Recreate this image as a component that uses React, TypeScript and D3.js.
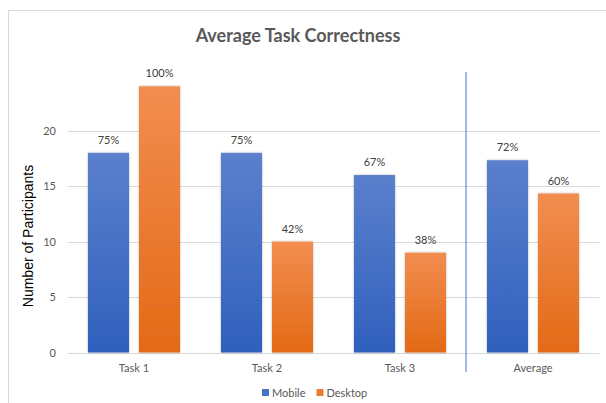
import React from "react";
import * as d3 from "d3";

// Participants who completed each task correctly (out of 24)
const categories = ["Task 1", "Task 2", "Task 3", "Average"];
const seriesNames = ["Mobile", "Desktop"];
const mobileValues = [18, 18, 16, 52 / 3];
const desktopValues = [24, 10, 9, 43 / 3];
const totalParticipants = 24;
const yTicks = [0, 5, 10, 15, 20];

const W = 606;
const H = 403;
const FONT = "Lato, 'Open Sans', sans-serif";

const seriesValues = [mobileValues, desktopValues];
const gradients = [
  { id: "grad-mobile", top: "#5B80CC", bottom: "#2F60BD", swatch: "#4472C4" },
  { id: "grad-desktop", top: "#F28D50", bottom: "#E36A16", swatch: "#ED7D31" },
];

export default function App() {
  const x0 = d3.scaleBand<string>().domain(categories).range([67.5, 599.5]);
  const x1 = d3
    .scaleBand<string>()
    .domain(seriesNames)
    .range([0, x0.bandwidth()])
    .paddingInner(0.196)
    .paddingOuter(0.402);
  const y = d3.scaleLinear().domain([0, 25]).range([352.5, 75.2]);

  const pct = (v: number) => `${Math.round((v / totalParticipants) * 100)}%`;
  const dividerX = x0("Average")!;

  return (
    <svg
      width={W}
      height={H}
      style={{ position: "absolute", left: 0, top: 0, background: "#fff" }}
      fontFamily={FONT}
    >
      <defs>
        {gradients.map((g) => (
          <linearGradient key={g.id} id={g.id} x1="0" y1="0" x2="0" y2="1">
            <stop offset="0%" stopColor={g.top} />
            <stop offset="100%" stopColor={g.bottom} />
          </linearGradient>
        ))}
        <filter id="bar-shadow" x="-20%" y="-10%" width="140%" height="120%">
          <feDropShadow dx="0" dy="0" stdDeviation="1" floodColor="#000" floodOpacity="0.3" />
        </filter>
      </defs>

      {/* chart frame */}
      <rect x={8.5} y={10.5} width={W} height={H} fill="#fff" stroke="#d9d9d9" />

      <text
        x={298}
        y={42}
        textAnchor="middle"
        fontSize={18}
        fontWeight={700}
        fill="#595959"
      >
        Average Task Correctness
      </text>

      {/* gridlines */}
      {yTicks.map((t) => (
        <g key={t}>
          <line x1={67.5} x2={599.5} y1={Math.round(y(t)) + 0.5} y2={Math.round(y(t)) + 0.5} stroke="#d9d9d9" />
          <text x={56} y={y(t) + 4} textAnchor="end" fontSize={11} fill="#595959">
            {t}
          </text>
        </g>
      ))}

      <text
        transform="translate(33,236) rotate(-90)"
        textAnchor="middle"
        fontSize={14}
        fontFamily="'Liberation Sans', Arial, sans-serif"
        fill="#000"
      >
        Number of Participants
      </text>

      {/* bars and value labels */}
      {categories.map((c, i) => (
        <g key={c} transform={`translate(${x0(c)},0)`}>
          {seriesNames.map((s, si) => {
            const v = seriesValues[si][i];
            const bx = x1(s)!;
            const bw = x1.bandwidth();
            return (
              <g key={s}>
                <rect
                  x={bx}
                  y={y(v)}
                  width={bw}
                  height={y(0) - y(v)}
                  fill={`url(#${gradients[si].id})`}
                  filter="url(#bar-shadow)"
                />
                <text
                  x={bx + bw / 2}
                  y={y(v) - 9}
                  textAnchor="middle"
                  fontSize={11}
                  fill="#404040"
                >
                  {pct(v)}
                </text>
              </g>
            );
          })}
          <text
            x={x0.bandwidth() / 2}
            y={372}
            textAnchor="middle"
            fontSize={11}
            fill="#595959"
          >
            {c}
          </text>
        </g>
      ))}

      {/* divider before the average group */}
      <line x1={dividerX - 0.5} x2={dividerX - 0.5} y1={72} y2={372} stroke="#4472C4" strokeWidth={1} />

      {/* legend */}
      {seriesNames.map((s, si) => {
        const lx = si === 0 ? 262 : 316.5;
        return (
          <g key={s} transform={`translate(${lx},389)`}>
            <rect x={0} y={0} width={7} height={7} fill={gradients[si].swatch} />
            <text x={10} y={7.5} fontSize={11} fill="#595959">
              {s}
            </text>
          </g>
        );
      })}
    </svg>
  );
}
